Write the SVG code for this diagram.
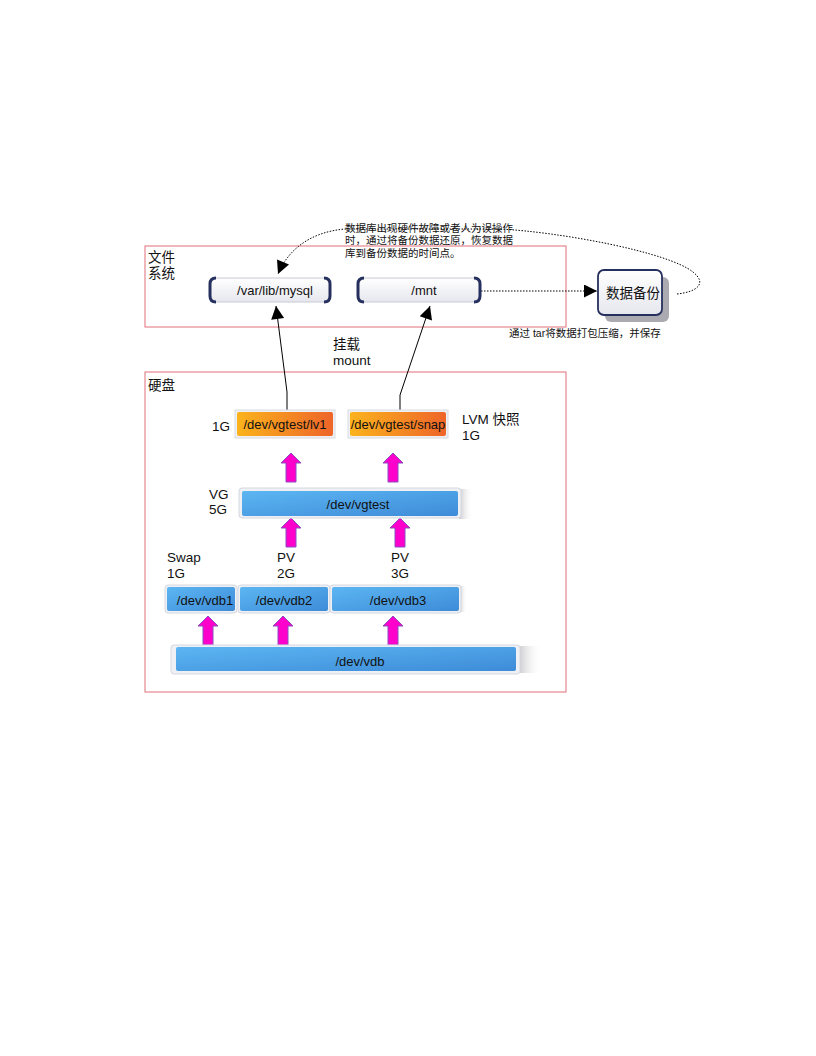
<svg xmlns="http://www.w3.org/2000/svg" width="816" height="1056" viewBox="0 0 816 1056">
<defs>
<style>
text{font-family:"Liberation Sans","Noto Sans CJK SC",sans-serif;fill:#111}
.t13{font-size:13.5px}
.t12{font-size:13px}
.t11{font-size:10.5px}
.c{text-anchor:middle}
.frame{fill:none;stroke:#e0707a;stroke-width:1}
.blue{fill:url(#gBlue)}
.bluebg{fill:#eef0f4;stroke:#d4d8e0;stroke-width:1}
.orange{fill:url(#gOrange)}
.mag{fill:#ff00cc;stroke:#8a4cc0;stroke-width:1}
.conn{fill:none;stroke:#000;stroke-width:1}
.dot{fill:none;stroke:#000;stroke-width:1;stroke-dasharray:1.5 1.5}
</style>
<linearGradient id="gBlue" x1="0" y1="0" x2="1" y2="1">
<stop offset="0" stop-color="#5cb6f2"/><stop offset="1" stop-color="#3d8bd8"/>
</linearGradient>
<linearGradient id="gOrange" x1="0" y1="0" x2="1" y2="0">
<stop offset="0" stop-color="#fbb31c"/><stop offset="1" stop-color="#ee6529"/>
</linearGradient>
<linearGradient id="gWhite" x1="0" y1="0" x2="0" y2="1">
<stop offset="0" stop-color="#ffffff"/><stop offset="1" stop-color="#e6e7ee"/>
</linearGradient>
<linearGradient id="gShadow" x1="0" y1="0" x2="1" y2="0">
<stop offset="0" stop-color="#c8c8cc"/><stop offset="1" stop-color="#ffffff" stop-opacity="0"/>
</linearGradient>
<marker id="ahBig" viewBox="0 0 10 10" refX="10" refY="5" markerWidth="20" markerHeight="13" markerUnits="userSpaceOnUse" orient="auto">
<path d="M0,0 L10,5 L0,10 z" fill="#000"/>
</marker>
<path id="upArrow" d="M-5,0 L-5,-19 L-10,-19 L0,-29 L10,-19 L5,-19 L5,0 z"/>
</defs>

<g id="frame-fs">
<rect class="frame" x="145" y="246" width="421" height="81"/>
<text class="t13" x="148" y="262">文件</text>
<text class="t13" x="148" y="278">系统</text>
</g>
<g id="frame-disk">
<rect class="frame" x="145" y="372" width="421" height="320"/>
<text class="t13" x="148" y="390">硬盘</text>
</g>

<g id="connectors">
<path class="conn" d="M287,410 L287,392 L276,306" marker-end="url(#ahBig)"/>
<path class="conn" d="M400,410 L400,395 L430,306" marker-end="url(#ahBig)"/>
<path class="dot" d="M481,291 L597,291" marker-end="url(#ahBig)"/>
<path class="dot" d="M677,294 C696,292 708,284 693,272 C668,252 560,232 500,229 L345,229 C310,232 288,250 278,274" marker-end="url(#ahBig)"/>
<g id="up-arrows">
<use href="#upArrow" class="mag" x="291" y="482"/>
<use href="#upArrow" class="mag" x="393" y="482"/>
<use href="#upArrow" class="mag" x="291" y="547"/>
<use href="#upArrow" class="mag" x="400" y="547"/>
<use href="#upArrow" class="mag" x="208" y="645"/>
<use href="#upArrow" class="mag" x="283" y="645"/>
<use href="#upArrow" class="mag" x="393" y="645"/>
</g>
</g>

<g id="node-mysql">
<rect x="210" y="278" width="120" height="24" rx="6" fill="url(#gWhite)" stroke="#c8cad6" stroke-width="1"/>
<path d="M216,278 Q210,278 210,284 L210,296 Q210,302 216,302" fill="none" stroke="#26305e" stroke-width="3"/>
<path d="M324,278 Q330,278 330,284 L330,296 Q330,302 324,302" fill="none" stroke="#26305e" stroke-width="3"/>
<text class="t12 c" x="275" y="295">/var/lib/mysql</text>
</g>
<g id="node-mnt">
<rect x="358" y="278" width="122" height="24" rx="6" fill="url(#gWhite)" stroke="#c8cad6" stroke-width="1"/>
<path d="M364,278 Q358,278 358,284 L358,296 Q358,302 364,302" fill="none" stroke="#26305e" stroke-width="3"/>
<path d="M474,278 Q480,278 480,284 L480,296 Q480,302 474,302" fill="none" stroke="#26305e" stroke-width="3"/>
<text class="t12 c" x="424" y="295">/mnt</text>
</g>
<g id="node-backup">
<rect x="605" y="277" width="64" height="45" rx="6" fill="#8e8e96" opacity="0.75"/>
<rect x="598" y="270" width="64" height="45" rx="6" fill="url(#gWhite)" stroke="#26305e" stroke-width="1.8"/>
<text class="t13 c" x="633" y="298">数据备份</text>
</g>

<g id="note-restore">
<text class="t11" x="345" y="232">数据库出现硬件故障或者人为误操作</text>
<text class="t11" x="345" y="244">时，通过将备份数据还原，恢复数据</text>
<text class="t11" x="345" y="257">库到备份数据的时间点。</text>
</g>
<g id="note-tar">
<text class="t11" x="509" y="337">通过 tar将数据打包压缩，并保存</text>
</g>
<g id="label-mount">
<text class="t13" x="333" y="349">挂载</text>
<text class="t13" x="333" y="365">mount</text>
</g>

<g id="node-lv1">
<rect x="235" y="410" width="100" height="28" fill="#eef0f4" stroke="#d8dbe2"/>
<rect class="orange" x="237" y="412" width="96" height="24" rx="2"/>
<text class="t12 c" x="285" y="429">/dev/vgtest/lv1</text>
<text class="t13" x="212" y="431">1G</text>
</g>
<g id="node-snap">
<rect x="348" y="410" width="100" height="28" fill="#eef0f4" stroke="#d8dbe2"/>
<rect class="orange" x="350" y="412" width="96" height="24" rx="2"/>
<text class="t12 c" x="398" y="429">/dev/vgtest/snap</text>
<text class="t13" x="462" y="424">LVM  快照</text>
<text class="t13" x="462" y="440">1G</text>
</g>

<g id="node-vgtest">
<rect x="459" y="489" width="14" height="30" fill="url(#gShadow)"/>
<rect class="bluebg" x="239" y="488" width="222" height="30" rx="3"/>
<rect class="blue" x="242" y="491" width="216" height="25" rx="2"/>
<text class="t12 c" x="358" y="509">/dev/vgtest</text>
<text class="t13" x="209" y="499">VG</text>
<text class="t13" x="209" y="514">5G</text>
</g>

<g id="labels-pv">
<text class="t13" x="167" y="562">Swap</text>
<text class="t13" x="167" y="578">1G</text>
<text class="t13" x="277" y="562">PV</text>
<text class="t13" x="277" y="578">2G</text>
<text class="t13" x="391" y="562">PV</text>
<text class="t13" x="391" y="578">3G</text>
</g>

<g id="node-vdb1">
<rect class="bluebg" x="165" y="585" width="72" height="28" rx="3"/>
<rect class="blue" x="167" y="587" width="68" height="24" rx="2"/>
<text class="t12 c" x="205" y="605">/dev/vdb1</text>
</g>
<g id="node-vdb2">
<rect class="bluebg" x="238" y="585" width="92" height="28" rx="3"/>
<rect class="blue" x="240" y="587" width="88" height="24" rx="2"/>
<text class="t12 c" x="284" y="605">/dev/vdb2</text>
</g>
<g id="node-vdb3">
<rect x="459" y="586" width="8" height="26" fill="url(#gShadow)"/>
<rect class="bluebg" x="330" y="585" width="131" height="28" rx="3"/>
<rect class="blue" x="332" y="587" width="127" height="24" rx="2"/>
<text class="t12 c" x="398" y="605">/dev/vdb3</text>
</g>

<g id="node-vdb">
<rect x="518" y="646" width="24" height="27" fill="url(#gShadow)"/>
<rect class="bluebg" x="171" y="645" width="349" height="29" rx="3"/>
<rect class="blue" x="176" y="647" width="340" height="24" rx="2"/>
<text class="t12 c" x="360" y="666">/dev/vdb</text>
</g>
</svg>
